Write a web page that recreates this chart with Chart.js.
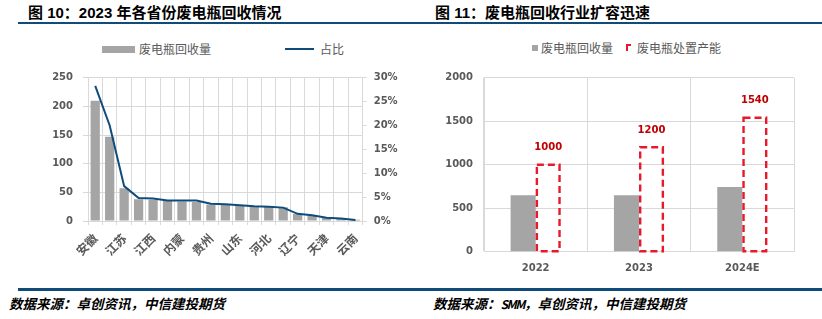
<!DOCTYPE html>
<html>
<head>
<meta charset="utf-8">
<script src="https://cdn.jsdelivr.net/npm/chart.js@4"></script>
<style>
  body { margin: 0; background: #fff; }
  #page { position: relative; width: 822px; height: 319px; overflow: hidden; font-family: "Liberation Sans", "Noto Sans CJK SC", sans-serif; }
  .title { position: absolute; top: 3px; font-size: 15px; font-weight: bold; color: #000; white-space: nowrap; line-height: 20px; }
  .rule { position: absolute; left: 18px; width: 804px; height: 2.5px; background: #0f4c7b; }
  .legend { position: absolute; font-size: 12px; color: #595959; white-space: nowrap; line-height: 14px; font-family: "Noto Sans CJK SC", sans-serif; }
  .foot { position: absolute; top: 295px; font-size: 13.5px; font-weight: bold; font-style: italic; color: #000; white-space: nowrap; line-height: 16px; font-family: "Noto Sans CJK SC", sans-serif; }
  canvas { position: absolute; }
</style>
</head>
<body>
<div id="page">
  <div class="title" style="left:28px">图 10：2023 年各省份废电瓶回收情况</div>
  <div class="title" style="left:435px">图 11：废电瓶回收行业扩容迅速</div>
  <div class="rule" style="top:21.5px"></div>

  <div style="position:absolute;left:102px;top:45.5px;width:33px;height:7px;background:#a5a5a5"></div>
  <div class="legend" style="left:139px;top:42px">废电瓶回收量</div>
  <div style="position:absolute;left:285px;top:48px;width:29px;height:2px;background:#0f4c7b"></div>
  <div class="legend" style="left:320px;top:42px">占比</div>

  <div style="position:absolute;left:532px;top:44.5px;width:6px;height:6px;background:#a5a5a5"></div>
  <div class="legend" style="left:541px;top:40.5px">废电瓶回收量</div>
  <div style="position:absolute;left:626px;top:44px;width:3px;height:5px;border-left:2px solid #e8192c;border-top:2px solid #e8192c"></div>
  <div class="legend" style="left:637px;top:40.5px">废电瓶处置产能</div>

  <canvas id="provChart" width="410" height="210" style="left:0;top:60px;width:410px;height:210px"></canvas>
  <canvas id="capChart" width="412" height="220" style="left:410px;top:60px;width:412px;height:220px"></canvas>

  <div class="rule" style="top:288px"></div>
  <div class="foot" style="left:9px">数据来源：卓创资讯，中信建投期货</div>
  <div class="foot" style="left:433px">数据来源：<span style="letter-spacing:-1.5px;font-size:12px">SMM</span>，卓创资讯，中信建投期货</div>
</div>
<script>
// 图10 各省份
const provinces = ['安徽', '浙江', '江苏', '河南', '江西', '湖北', '内蒙', '广东', '贵州', '湖南',
                   '山东', '四川', '河北', '广西', '辽宁', '福建', '天津', '陕西', '云南'];
const recycleVolume = [210, 147, 57, 38, 37, 35, 34, 33, 29, 29, 28, 26, 25, 24, 12, 10, 7, 4, 2];
const sharePct = [28.3, 20.0, 7.3, 4.8, 4.7, 4.3, 4.3, 4.3, 3.6, 3.5, 3.3, 3.1, 3.0, 2.8, 1.5, 1.2, 0.7, 0.5, 0.2];

// 图11 回收量与处置产能
const years = ['2022', '2023', '2024E'];
const recycleByYear = [650, 650, 745];
const capacity = [1000, 1200, 1540];

const gridColor = '#d9d9d9';
const tickColor = '#595959';
const numFont = { family: '"DejaVu Sans", "Noto Sans CJK SC", sans-serif', size: 10, weight: 'bold' };

new Chart(document.getElementById('provChart'), {
    type: 'bar',
    data: {
        labels: provinces,
        datasets: [{
            type: 'line',
            label: '占比',
            data: sharePct,
            yAxisID: 'y2',
            borderColor: '#0f4c7b',
            borderWidth: 2,
            pointRadius: 0,
            tension: 0,
            order: 0
        }, {
            label: '废电瓶回收量',
            data: recycleVolume,
            yAxisID: 'y',
            backgroundColor: '#a5a5a5',
            categoryPercentage: 1,
            barPercentage: 0.64,
            order: 1
        }]
    },
    options: {
        responsive: false,
        animation: false,
        layout: { padding: { top: 17.7 } },
        plugins: { legend: { display: false }, tooltip: { enabled: false } },
        scales: {
            x: {
                grid: { color: gridColor, tickLength: 4 },
                border: { color: gridColor },
                ticks: {
                    autoSkip: false,
                    maxRotation: 45,
                    minRotation: 45,
                    padding: 6,
                    color: tickColor,
                    font: { family: '"Noto Sans CJK SC", sans-serif', size: 12, weight: 'bold' },
                    callback: (v, i) => (i % 2 === 0 ? provinces[i] : '')
                },
                afterFit: s => { s.height = 49; }
            },
            y: {
                position: 'left',
                min: 0,
                max: 250,
                grid: { color: gridColor, tickLength: 5 },
                border: { color: gridColor },
                ticks: { stepSize: 50, padding: 10, color: tickColor, font: numFont },
                afterFit: s => { s.width = 88; }
            },
            y2: {
                position: 'right',
                min: 0,
                max: 30,
                grid: { drawOnChartArea: false, color: gridColor, tickLength: 4 },
                border: { color: gridColor },
                ticks: { stepSize: 5, padding: 7, color: tickColor, font: numFont, callback: v => v + '%' },
                afterFit: s => { s.width = 47.3; }
            }
        }
    }
});

// dashed outline bars + value labels for capacity
const dashedBars = {
    id: 'dashedBars',
    afterDatasetsDraw(chart) {
        const ctx = chart.ctx;
        const meta = chart.getDatasetMeta(1);
        ctx.save();
        meta.data.forEach((bar, i) => {
            const p = bar.getProps(['x', 'y', 'base', 'width'], true);
            const left = p.x - p.width / 2 + 1.2;
            const right = p.x + p.width / 2 - 1.2;
            ctx.strokeStyle = '#e8192c';
            ctx.lineWidth = 2.4;
            ctx.setLineDash([7, 4]);
            ctx.strokeRect(left, p.y, right - left, p.base - p.y);
            ctx.setLineDash([]);
            ctx.fillStyle = '#c00000';
            ctx.font = 'bold 10px "DejaVu Sans", sans-serif';
            ctx.textAlign = 'center';
            ctx.textBaseline = 'middle';
            ctx.fillText(capacity[i], p.x, p.y - 17);
        });
        ctx.restore();
    }
};

new Chart(document.getElementById('capChart'), {
    type: 'bar',
    data: {
        labels: years,
        datasets: [{
            label: '废电瓶回收量',
            data: recycleByYear,
            backgroundColor: '#a5a5a5',
            categoryPercentage: 0.485,
            barPercentage: 1
        }, {
            label: '废电瓶处置产能',
            data: capacity,
            backgroundColor: 'rgba(0,0,0,0)',
            borderWidth: 0,
            categoryPercentage: 0.485,
            barPercentage: 1
        }]
    },
    options: {
        responsive: false,
        animation: false,
        layout: { padding: { top: 17.7, right: 28 } },
        plugins: { legend: { display: false }, tooltip: { enabled: false } },
        scales: {
            x: {
                grid: { color: gridColor, drawTicks: false },
                border: { color: gridColor },
                ticks: { padding: 11, color: tickColor, font: numFont },
                afterFit: s => { s.height = 28.3; }
            },
            y: {
                min: 0,
                max: 2000,
                grid: { color: gridColor, drawTicks: false },
                border: { color: gridColor },
                ticks: { stepSize: 500, padding: 11, color: tickColor, font: numFont, callback: v => String(v) },
                afterFit: s => { s.width = 74; }
            }
        }
    },
    plugins: [dashedBars]
});
</script>
</body>
</html>
